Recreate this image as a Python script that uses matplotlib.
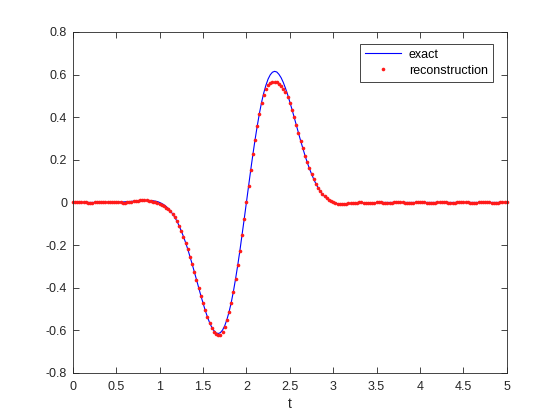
import numpy as np
import matplotlib
matplotlib.use("Agg")
import matplotlib.pyplot as plt

plt.rcParams["font.family"] = ["Liberation Sans", "DejaVu Sans"]
plt.rcParams["axes.unicode_minus"] = False

# sample times, 0 to 5 in steps of 0.025
t = np.linspace(0, 5, 201)

# exact signal, one row per 0.2 of t
exact = [
    0.000, 0.000, 0.000, 0.000, 0.000, 0.000, 0.000, 0.000,
    0.000, 0.000, 0.000, 0.000, 0.000, 0.000, 0.000, 0.000,
    0.001, 0.001, 0.001, 0.001, 0.001, 0.002, 0.002, 0.002,
    0.003, 0.004, 0.004, 0.005, 0.006, 0.006, 0.007, 0.008,
    0.008, 0.009, 0.009, 0.009, 0.009, 0.008, 0.006, 0.004,
    0.000, -0.005, -0.011, -0.019, -0.028, -0.040, -0.054, -0.070,
    -0.088, -0.110, -0.134, -0.160, -0.189, -0.220, -0.254, -0.289,
    -0.325, -0.362, -0.400, -0.437, -0.472, -0.506, -0.536, -0.563,
    -0.585, -0.601, -0.612, -0.615, -0.611, -0.599, -0.579, -0.550,
    -0.514, -0.470, -0.418, -0.359, -0.295, -0.226, -0.153, -0.077,
    0.000, 0.077, 0.153, 0.226, 0.295, 0.359, 0.418, 0.470,
    0.514, 0.550, 0.579, 0.599, 0.611, 0.615, 0.612, 0.601,
    0.585, 0.563, 0.536, 0.506, 0.472, 0.437, 0.400, 0.362,
    0.325, 0.289, 0.254, 0.220, 0.189, 0.160, 0.134, 0.110,
    0.088, 0.070, 0.054, 0.040, 0.028, 0.019, 0.011, 0.005,
    0.000, -0.003, -0.005, -0.006, -0.006, -0.006, -0.006, -0.005,
    -0.005, -0.004, -0.004, -0.003, -0.003, -0.002, -0.002, -0.002,
    -0.001, -0.001, -0.001, -0.001, -0.001, 0.000, 0.000, 0.000,
    0.000, 0.000, 0.000, 0.000, 0.000, 0.000, 0.000, 0.000,
    0.000, 0.000, 0.000, 0.000, 0.000, 0.000, 0.000, 0.000,
    0.000, 0.000, 0.000, 0.000, 0.000, 0.000, 0.000, 0.000,
    0.000, 0.000, 0.000, 0.000, 0.000, 0.000, 0.000, 0.000,
    0.000, 0.000, 0.000, 0.000, 0.000, 0.000, 0.000, 0.000,
    0.000, 0.000, 0.000, 0.000, 0.000, 0.000, 0.000, 0.000,
    0.000, 0.000, 0.000, 0.000, 0.000, 0.000, 0.000, 0.000,
    0.000,
]

# reconstructed samples (same times)
recon = [
    0.000, 0.000, 0.001, 0.001, 0.001, 0.000, 0.000, -0.001,
    -0.001, -0.001, 0.000, 0.000, 0.001, 0.002, 0.003, 0.003,
    0.004, 0.004, 0.004, 0.003, 0.002, 0.001, 0.000, -0.001,
    -0.001, 0.000, 0.001, 0.003, 0.005, 0.007, 0.009, 0.010,
    0.011, 0.011, 0.010, 0.009, 0.007, 0.004, 0.001, -0.003,
    -0.008, -0.013, -0.018, -0.024, -0.031, -0.041, -0.054, -0.070,
    -0.088, -0.110, -0.134, -0.160, -0.189, -0.220, -0.254, -0.289,
    -0.325, -0.362, -0.400, -0.437, -0.472, -0.506, -0.537, -0.565,
    -0.588, -0.606, -0.619, -0.624, -0.620, -0.606, -0.584, -0.553,
    -0.515, -0.470, -0.418, -0.359, -0.295, -0.226, -0.153, -0.077,
    0.000, 0.077, 0.153, 0.226, 0.295, 0.358, 0.415, 0.465,
    0.505, 0.532, 0.550, 0.560, 0.565, 0.566, 0.564, 0.558,
    0.548, 0.534, 0.516, 0.494, 0.467, 0.435, 0.399, 0.362,
    0.325, 0.289, 0.254, 0.220, 0.189, 0.160, 0.134, 0.110,
    0.088, 0.070, 0.054, 0.040, 0.028, 0.019, 0.011, 0.005,
    0.000, -0.003, -0.005, -0.006, -0.006, -0.006, -0.005, -0.004,
    -0.003, -0.002, -0.001, -0.001, 0.000, 0.000, -0.001, -0.002,
    -0.002, -0.002, -0.002, -0.001, 0.000, 0.000, 0.000, -0.001,
    -0.002, -0.002, -0.002, -0.001, 0.000, 0.000, 0.001, 0.001,
    0.000, -0.001, -0.002, -0.002, -0.002, -0.001, 0.000, 0.000,
    0.001, 0.001, 0.000, -0.001, -0.002, -0.002, -0.001, -0.001,
    0.000, 0.001, 0.001, 0.001, 0.000, -0.001, -0.002, -0.002,
    -0.001, 0.000, 0.001, 0.001, 0.001, 0.001, 0.000, -0.001,
    -0.002, -0.002, -0.001, 0.000, 0.001, 0.001, 0.001, 0.001,
    0.000, -0.001, -0.002, -0.002, -0.001, 0.000, 0.001, 0.001,
    0.000,
]

x_ticks = [0, 0.5, 1, 1.5, 2, 2.5, 3, 3.5, 4, 4.5, 5]
x_labels = ["0", "0.5", "1", "1.5", "2", "2.5", "3", "3.5", "4", "4.5", "5"]
y_ticks = [-0.8, -0.6, -0.4, -0.2, 0, 0.2, 0.4, 0.6, 0.8]
y_labels = ["-0.8", "-0.6", "-0.4", "-0.2", "0", "0.2", "0.4", "0.6", "0.8"]

axis_col = (0.15, 0.15, 0.15)

fig = plt.figure(figsize=(5.6, 4.2), dpi=100)
ax = fig.add_axes([0.13, 0.112, 0.775, 0.812])

ax.plot(t, exact, color="#0000ff", lw=0.8, label="exact")
ax.plot(t, recon, ls="none", marker="o", ms=2.6, mew=0, color="#ff1a1a",
        label="reconstruction", clip_on=False)

ax.set_xlim(0, 5)
ax.set_ylim(-0.8, 0.8)
ax.set_xticks(x_ticks)
ax.set_xticklabels(x_labels)
ax.set_yticks(y_ticks)
ax.set_yticklabels(y_labels)
ax.tick_params(direction="in", length=4, width=0.6, colors=axis_col,
               labelsize=9, top=True, right=True)
ax.tick_params(axis="x", pad=5.5)
ax.tick_params(axis="y", pad=4)
for sp in ax.spines.values():
    sp.set_linewidth(0.6)
    sp.set_color(axis_col)

ax.set_xlabel("t", fontsize=10, color=axis_col, labelpad=3)

leg = ax.legend(loc="upper right", bbox_to_anchor=(0.968, 0.965),
                borderaxespad=0, fontsize=9, numpoints=1, handlelength=2.9,
                labelspacing=0.3, fancybox=False, framealpha=1,
                edgecolor=axis_col, borderpad=0.4, handletextpad=0.6)
leg.get_frame().set_linewidth(0.6)

fig.savefig("out.png", dpi=100, facecolor="white")
